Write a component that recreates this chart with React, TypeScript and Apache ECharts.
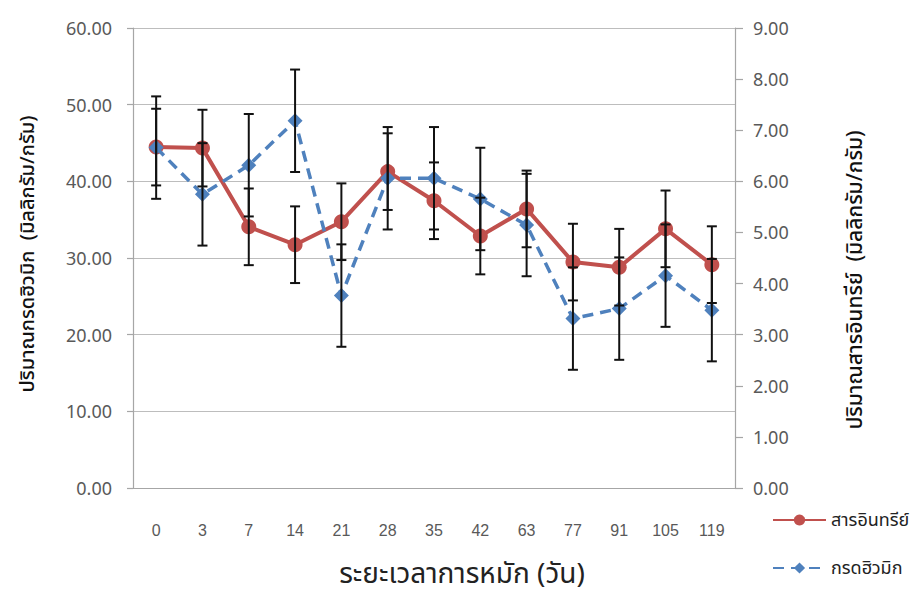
import React, { useEffect, useRef } from "react";
import * as echarts from "echarts";

const categories = ["0", "3", "7", "14", "21", "28", "35", "42", "63", "77", "91", "105", "119"];
// สารอินทรีย์ (right axis)
const organicMatter = [6.67, 6.65, 5.11, 4.76, 5.21, 6.19, 5.62, 4.93, 5.46, 4.42, 4.32, 5.07, 4.37];
const organicMatterErr = [0.75, 0.75, 0.75, 0.75, 0.75, 0.75, 0.75, 0.75, 0.75, 0.75, 0.75, 0.75, 0.75];
// กรดฮิวมิก (left axis)
const humicAcid = [44.4, 38.3, 42.1, 47.9, 25.1, 40.4, 40.4, 37.7, 34.3, 22.1, 23.4, 27.7, 23.2];
const humicAcidErr = [6.68, 6.68, 6.68, 6.68, 6.68, 6.68, 6.68, 6.68, 6.68, 6.68, 6.68, 6.68, 6.68];

const seriesNames = ["สารอินทรีย์", "กรดฮิวมิก"];
const xAxisTitle = "ระยะเวลาการหมัก (วัน)";
const leftAxisTitle = "ปริมาณกรดฮิวมิก  (มิลลิกรัม/กรัม)";
const rightAxisTitle = "ปริมาณสารอินทรีย์  (มิลลิกรัม/กรัม)";

const THAI = "'Noto Sans Thai', 'Noto Sans Thai UI', 'Noto Sans', Tahoma, sans-serif";
const NUM = "'Noto Sans', 'Open Sans', sans-serif";

function errorRender(params: any, api: any) {
  const x = api.value(0);
  const lo = api.coord([x, api.value(1)]);
  const hi = api.coord([x, api.value(2)]);
  const half = 5;
  const style = { stroke: "#111", lineWidth: 2 };
  return {
    type: "group",
    children: [
      { type: "line", shape: { x1: lo[0], y1: lo[1], x2: hi[0], y2: hi[1] }, style },
      { type: "line", shape: { x1: lo[0] - half, y1: lo[1], x2: lo[0] + half, y2: lo[1] }, style },
      { type: "line", shape: { x1: hi[0] - half, y1: hi[1], x2: hi[0] + half, y2: hi[1] }, style },
    ],
  };
}

export default function App() {
  const ref = useRef<HTMLDivElement>(null);
  useEffect(() => {
    if (!ref.current) return;
    const chart = echarts.init(ref.current, null, { renderer: "svg" });
    const axisLineStyle = { color: "#a6a6a6", width: 1.2 };
    chart.setOption({
      animation: false,
      backgroundColor: "#ffffff",
      grid: { left: 133, right: 184, top: 28, bottom: 108, containLabel: false },
      legend: {
        data: seriesNames,
        orient: "vertical",
        left: 767,
        top: 506,
        itemWidth: 53,
        itemHeight: 14,
        itemGap: 30,
        textStyle: { fontFamily: THAI, fontSize: 18, color: "#222" },
      },
      xAxis: {
        type: "category",
        data: categories,
        boundaryGap: true,
        axisLine: { lineStyle: axisLineStyle },
        axisTick: { alignWithLabel: true, length: 6, lineStyle: axisLineStyle },
        axisLabel: {
          margin: 34,
          fontSize: 16,
          color: "#595959",
          fontFamily: "'Liberation Sans Narrow', 'Liberation Sans', Arial, sans-serif",
        },
        splitLine: { show: false },
      },
      yAxis: [
        {
          type: "value",
          min: 0,
          max: 60,
          interval: 10,
          position: "left",
          axisLine: { show: true, lineStyle: axisLineStyle },
          axisTick: { show: true, length: 6, lineStyle: axisLineStyle },
          axisLabel: {
            margin: 21,
            fontSize: 18,
            color: "#595959",
            fontFamily: NUM,
            formatter: (v: number) => v.toFixed(2),
          },
          splitLine: { show: true, lineStyle: { color: "#bdbdbd", width: 1.2 } },
        },
        {
          type: "value",
          min: 0,
          max: 9,
          interval: 1,
          position: "right",
          axisLine: { show: true, lineStyle: axisLineStyle },
          axisTick: { show: true, length: 8, lineStyle: axisLineStyle },
          axisLabel: {
            margin: 18,
            fontSize: 18,
            color: "#595959",
            fontFamily: NUM,
            formatter: (v: number) => v.toFixed(2),
          },
          splitLine: { show: false },
        },
      ],
      graphic: [
        {
          type: "text",
          x: 28,
          y: 254,
          rotation: Math.PI / 2,
          style: {
            text: leftAxisTitle,
            font: `500 20px ${THAI}`,
            fill: "#111",
            textAlign: "center",
            textVerticalAlign: "middle",
            align: "center",
            verticalAlign: "middle",
          },
        },
        {
          type: "text",
          x: 855,
          y: 280,
          rotation: Math.PI / 2,
          style: {
            text: rightAxisTitle,
            font: `500 21px ${THAI}`,
            fill: "#111",
            textAlign: "center",
            textVerticalAlign: "middle",
            align: "center",
            verticalAlign: "middle",
          },
        },
        {
          type: "text",
          x: 462,
          y: 574,
          style: {
            text: xAxisTitle,
            font: `28px ${THAI}`,
            fill: "#222",
            textAlign: "center",
            textVerticalAlign: "middle",
            align: "center",
            verticalAlign: "middle",
          },
        },
      ],
      series: [
        {
          name: seriesNames[0],
          type: "line",
          yAxisIndex: 1,
          data: organicMatter,
          symbol: "circle",
          symbolSize: 15,
          lineStyle: { color: "#c0504d", width: 4 },
          itemStyle: { color: "#c0504d" },
          z: 3,
        },
        {
          name: seriesNames[1],
          type: "line",
          yAxisIndex: 0,
          data: humicAcid,
          symbol: "diamond",
          symbolSize: 15,
          lineStyle: { color: "#4f81bd", width: 3.5, type: [11, 7] },
          itemStyle: { color: "#4f81bd" },
          z: 4,
        },
        {
          name: "err-organic",
          type: "custom",
          yAxisIndex: 1,
          renderItem: errorRender,
          encode: { x: 0, y: [1, 2] },
          data: organicMatter.map((v, i) => [i, v - organicMatterErr[i], v + organicMatterErr[i]]),
          z: 6,
          silent: true,
        },
        {
          name: "err-humic",
          type: "custom",
          yAxisIndex: 0,
          renderItem: errorRender,
          encode: { x: 0, y: [1, 2] },
          data: humicAcid.map((v, i) => [i, v - humicAcidErr[i], v + humicAcidErr[i]]),
          z: 6,
          silent: true,
        },
      ],
    });
    return () => chart.dispose();
  }, []);
  return (
    <div
      ref={ref}
      style={{ position: "fixed", left: 0, top: 0, width: 919, height: 596, background: "#fff" }}
    />
  );
}
